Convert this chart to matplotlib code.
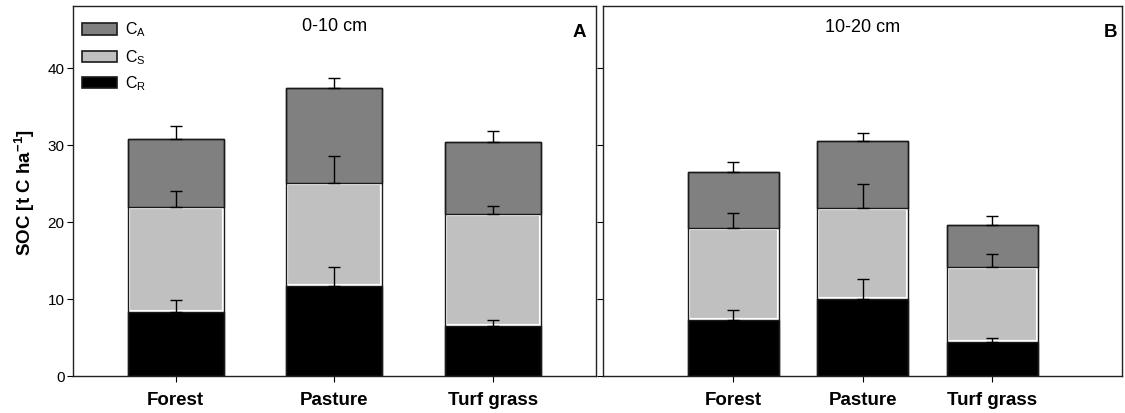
import matplotlib
matplotlib.use("Agg")
import matplotlib.pyplot as plt
from matplotlib.patches import Rectangle
import numpy as np

plt.rcParams['font.family'] = ['Liberation Sans', 'DejaVu Sans']

categories = ["Forest", "Pasture", "Turf grass"]
components = ["C$_\\mathregular{A}$", "C$_\\mathregular{S}$", "C$_\\mathregular{R}$"]

# 0-10 cm: pool sizes (t C/ha) and their upper errors
cr_0_10 = [8.3, 11.7, 6.55]
cs_0_10 = [13.6, 13.3, 14.45]
ca_0_10 = [8.9, 12.35, 9.35]
cr_err_0_10 = [1.6, 2.5, 0.7]
cs_err_0_10 = [2.1, 3.5, 1.0]
ca_err_0_10 = [1.7, 1.25, 1.5]

# 10-20 cm
cr_10_20 = [7.25, 10.0, 4.4]
cs_10_20 = [11.95, 11.75, 9.75]
ca_10_20 = [7.3, 8.75, 5.5]
cr_err_10_20 = [1.25, 2.6, 0.56]
cs_err_10_20 = [1.9, 3.15, 1.65]
ca_err_10_20 = [1.3, 1.05, 1.15]

col_a = "#808080"
col_s = "#c0c0c0"
col_r = "#000000"
edge = "#1a1a1a"

fig = plt.figure(figsize=(11.25, 4.14), dpi=100)
axA = fig.add_axes([0.0649, 0.0894, 0.4649, 0.8936])
axB = fig.add_axes([0.536, 0.0894, 0.4613, 0.8936])


def draw_panel(ax, cr, cs, ca, er, es, ea, width):
    x = np.arange(len(categories))
    cr = np.array(cr); cs = np.array(cs); ca = np.array(ca)
    top_r = cr
    top_s = cr + cs
    top_a = cr + cs + ca
    # C_S drawn first with a light rim; neighbours overlap half of it
    ax.bar(x, cs, width, bottom=top_r, color=col_s, edgecolor="white",
           linewidth=3, zorder=2)
    ax.bar(x, cr, width, color=col_r, edgecolor=edge, linewidth=1, zorder=2.5)
    ax.bar(x, ca, width, bottom=top_s, color=col_a, edgecolor=edge,
           linewidth=1, zorder=2.5)
    # outline of each stacked column
    ax.bar(x, top_a, width, facecolor="none", edgecolor=edge, linewidth=1, zorder=3)
    for tops, err in ((top_r, er), (top_s, es), (top_a, ea)):
        ax.errorbar(x, tops, yerr=[np.zeros(len(x)), err], fmt="none",
                    ecolor="black", elinewidth=1, capsize=4, capthick=1, zorder=4)
    ax.set_xticks(x)
    ax.set_xticklabels(categories, fontsize=13.5, fontweight="bold")
    ax.set_ylim(0, 48)
    ax.set_yticks([0, 10, 20, 30, 40])
    for s in ax.spines.values():
        s.set_color("#222222")
        s.set_linewidth(1)


draw_panel(axA, cr_0_10, cs_0_10, ca_0_10,
           cr_err_0_10, cs_err_0_10, ca_err_0_10, 0.606)
axA.set_xlim(-0.648, 2.652)
draw_panel(axB, cr_10_20, cs_10_20, ca_10_20,
           cr_err_10_20, cs_err_10_20, ca_err_10_20, 0.70)
axB.set_xlim(-1.005, 3.0)

axA.tick_params(axis="y", direction="out", length=4, labelsize=11, pad=2)
axA.tick_params(axis="x", direction="out", length=4, pad=7)
axB.tick_params(axis="y", direction="out", length=4.5, labelleft=False)
axB.tick_params(axis="x", direction="out", length=4, pad=7)

axA.set_ylabel("SOC [t C ha$^{\\mathregular{-1}}$]", fontsize=13.5, fontweight="bold",
               labelpad=8)

axA.text(0.501, 0.948, "0-10 cm", transform=axA.transAxes, ha="center", va="center",
         fontsize=13)
axB.text(0.501, 0.945, "10-20 cm", transform=axB.transAxes, ha="center", va="center",
         fontsize=13)
axA.text(0.98, 0.93, "A", transform=axA.transAxes, ha="right", va="center",
         fontsize=13.5, fontweight="bold")
axB.text(0.99, 0.93, "B", transform=axB.transAxes, ha="right", va="center",
         fontsize=13.5, fontweight="bold")

# legend keys drawn in axes coordinates
legend_rows = [0.938, 0.864, 0.794]
for y, fc, lab in zip(legend_rows, [col_a, col_s, col_r], components):
    axA.add_patch(Rectangle((0.0178, y - 0.0154), 0.0658, 0.0308,
                            transform=axA.transAxes, facecolor=fc,
                            edgecolor=edge, linewidth=1.2, zorder=5))
    axA.text(0.0994, y, lab, transform=axA.transAxes, ha="left", va="center",
             fontsize=11.5, zorder=5)

fig.savefig("out.png", dpi=100)
